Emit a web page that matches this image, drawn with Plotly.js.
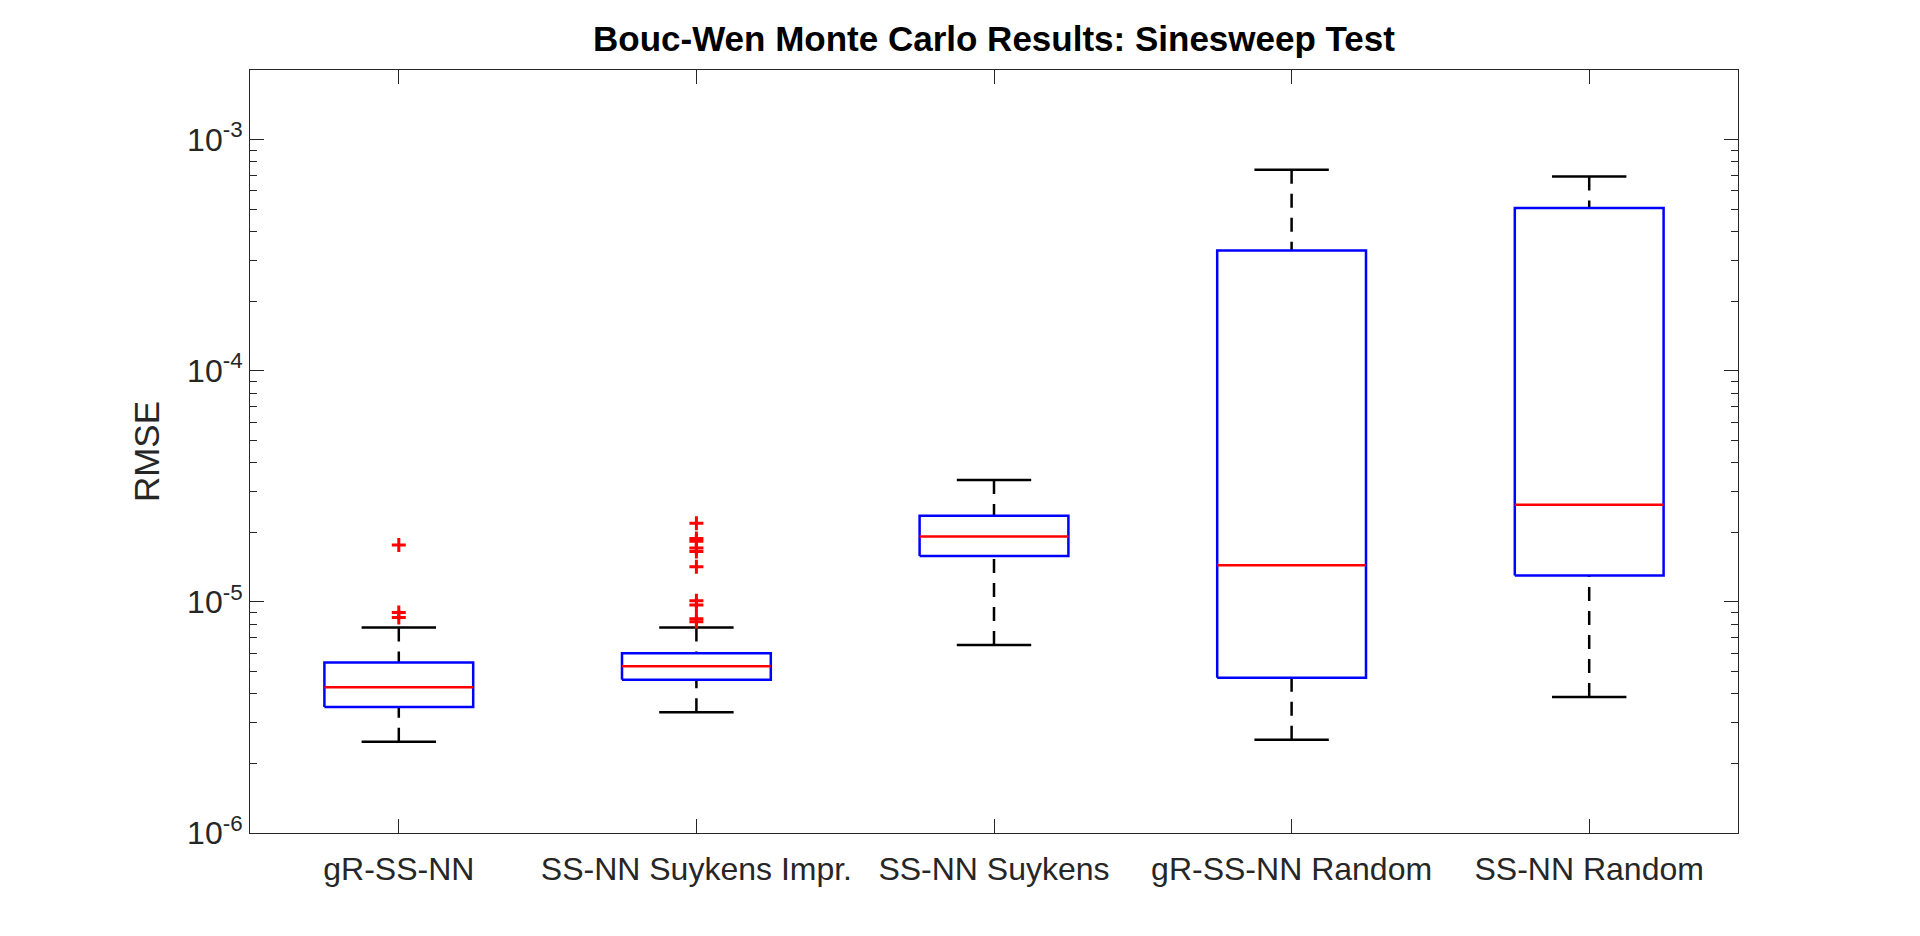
<!DOCTYPE html>
<html>
<head>
<meta charset="utf-8">
<script src="https://cdn.plot.ly/plotly-3.0.1.min.js"></script>
<style>
  html, body { margin: 0; padding: 0; background: #fff; }
  #chart { width: 1920px; height: 936px; }
</style>
</head>
<body>
<div id="chart"></div>
<script>
// Box statistics (RMSE)
const categories = ['gR-SS-NN', 'SS-NN Suykens Impr.', 'SS-NN Suykens', 'gR-SS-NN Random', 'SS-NN Random'];
const lowerWhisker = [2.48e-6, 3.33e-6, 6.51e-6, 2.53e-6, 3.88e-6];
const q1 = [3.51e-6, 4.60e-6, 1.58e-5, 4.69e-6, 1.30e-5];
const medians = [4.27e-6, 5.27e-6, 1.92e-5, 1.44e-5, 2.63e-5];
const q3 = [5.46e-6, 6.00e-6, 2.36e-5, 3.31e-4, 5.06e-4];
const upperWhisker = [7.74e-6, 7.74e-6, 3.37e-5, 7.41e-4, 6.92e-4];

// Outliers: which box (1-based) and value
const outlierBox = [1, 1, 1, 2, 2, 2, 2, 2, 2, 2, 2, 2, 2];
const outlierValues = [1.76e-5, 8.99e-6, 8.55e-6,
    2.19e-5, 1.88e-5, 1.83e-5, 1.71e-5, 1.65e-5, 1.42e-5, 1.01e-5, 9.68e-6, 8.46e-6, 8.21e-6];

const yTickVals = [1e-6, 1e-5, 1e-4, 1e-3];
const yTickText = ['10<sup>-6</sup>', '10<sup>-5</sup>', '10<sup>-4</sup>', '10<sup>-3</sup>'];

const axisColor = '#262626';
const fontFamily = 'Liberation Sans, Arial, Helvetica, sans-serif';
const halfBox = 0.25;
const halfCap = 0.125;

// Build line paths for each box element
const boxX = [], boxY = [];
const medX = [], medY = [];
const whiskX = [], whiskY = [];
const capX = [], capY = [];

categories.forEach((cat, k) => {
    const i = k + 1;
    boxX.push(i - halfBox, i + halfBox, i + halfBox, i - halfBox, i - halfBox, null);
    boxY.push(q1[k], q1[k], q3[k], q3[k], q1[k], null);

    medX.push(i - halfBox, i + halfBox, null);
    medY.push(medians[k], medians[k], null);

    whiskX.push(i, i, null, i, i, null);
    whiskY.push(upperWhisker[k], q3[k], null, lowerWhisker[k], q1[k], null);

    capX.push(i - halfCap, i + halfCap, null, i - halfCap, i + halfCap, null);
    capY.push(upperWhisker[k], upperWhisker[k], null, lowerWhisker[k], lowerWhisker[k], null);
});

// minor tick positions for log axis (2..9 in each decade)
const minorVals = [];
for (let d = -6; d <= -3; d++) {
    for (let m = 2; m <= 9; m++) {
        minorVals.push(m * Math.pow(10, d));
    }
}

const data = [
    {
        type: 'scatter', mode: 'lines', x: whiskX, y: whiskY,
        line: { color: '#000000', width: 2.5, dash: '14px,10px' },
        hoverinfo: 'skip', showlegend: false
    },
    {
        type: 'scatter', mode: 'lines', x: capX, y: capY,
        line: { color: '#000000', width: 2.5 },
        hoverinfo: 'skip', showlegend: false
    },
    {
        type: 'scatter', mode: 'lines', x: boxX, y: boxY,
        line: { color: '#0000ff', width: 2.5 },
        hoverinfo: 'skip', showlegend: false
    },
    {
        type: 'scatter', mode: 'lines', x: medX, y: medY,
        line: { color: '#ff0000', width: 2.5 },
        hoverinfo: 'skip', showlegend: false
    },
    {
        type: 'scatter', mode: 'markers', x: outlierBox, y: outlierValues,
        marker: {
            symbol: 'cross-thin', size: 10, color: '#ff0000',
            line: { color: '#ff0000', width: 3 }
        },
        showlegend: false
    }
];

const layout = {
    width: 1920,
    height: 936,
    paper_bgcolor: '#ffffff',
    plot_bgcolor: '#ffffff',
    margin: { l: 250, r: 182, t: 70, b: 103 },
    font: { family: fontFamily, color: axisColor, size: 32 },
    showlegend: false,
    title: {
        text: '<b>Bouc-Wen Monte Carlo Results: Sinesweep Test</b>',
        font: { family: fontFamily, size: 35, color: '#000000' },
        x: 0.5, xref: 'paper',
        y: 1 - 39 / 936, yref: 'container', yanchor: 'middle'
    },
    xaxis: {
        type: 'linear',
        range: [0.5, 5.5],
        tickmode: 'array',
        tickvals: [1, 2, 3, 4, 5],
        ticktext: categories,
        ticks: 'inside',
        ticklen: 14,
        tickwidth: 1,
        tickcolor: axisColor,
        showline: true,
        linecolor: axisColor,
        linewidth: 1,
        mirror: 'ticks',
        showgrid: false,
        zeroline: false,
        tickfont: { family: fontFamily, size: 32, color: axisColor },
        ticklabelstandoff: 8
    },
    yaxis: {
        type: 'log',
        range: [-6, Math.log10(2e-3)],
        tickmode: 'array',
        tickvals: yTickVals,
        ticktext: yTickText,
        ticks: 'inside',
        ticklen: 14,
        tickwidth: 1,
        tickcolor: axisColor,
        minor: {
            tickmode: 'array',
            tickvals: minorVals,
            ticks: 'inside',
            ticklen: 7,
            tickwidth: 1,
            tickcolor: axisColor,
            showgrid: false
        },
        showline: true,
        linecolor: axisColor,
        linewidth: 1,
        mirror: 'ticks',
        showgrid: false,
        zeroline: false,
        tickfont: { family: fontFamily, size: 32, color: axisColor },
        title: {
            text: 'RMSE',
            font: { family: fontFamily, size: 35, color: axisColor },
            standoff: 16
        }
    }
};

Plotly.newPlot('chart', data, layout, { displayModeBar: false, staticPlot: true });
</script>
</body>
</html>
